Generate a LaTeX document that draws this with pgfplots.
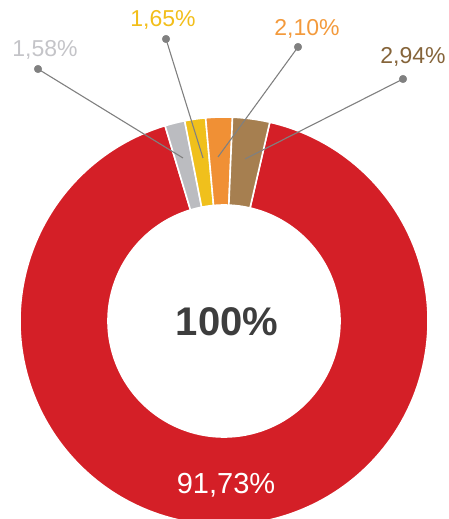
\documentclass[border=0pt]{standalone}
\usepackage{pgfplots}
\pgfplotsset{compat=1.18}
\usepackage{pgfplotstable}
\usepackage{fontspec}
\setmainfont{Liberation Sans}
\definecolor{cred}{HTML}{D41F27}
\definecolor{cgray}{HTML}{BBBCC0}
\definecolor{cyellow}{HTML}{F0C01C}
\definecolor{corange}{HTML}{F09035}
\definecolor{cbrown}{HTML}{A67F50}
\definecolor{lgray}{HTML}{C4C4C8}
\definecolor{lyellow}{HTML}{F2BE1A}
\definecolor{lorange}{HTML}{F39A3C}
\definecolor{lbrown}{HTML}{85643A}
\definecolor{leader}{HTML}{808080}
\definecolor{ctext}{HTML}{3D3D3D}

\pgfplotstableread{
name value
gray 1.58
yellow 1.65
orange 2.10
brown 2.94
red 91.73
}\slices

\pgfplotstablegetelem{0}{value}\of\slices \let\vA\pgfplotsretval
\pgfplotstablegetelem{1}{value}\of\slices \let\vB\pgfplotsretval
\pgfplotstablegetelem{2}{value}\of\slices \let\vC\pgfplotsretval
\pgfplotstablegetelem{3}{value}\of\slices \let\vD\pgfplotsretval
\pgfplotstablegetelem{4}{value}\of\slices \let\vE\pgfplotsretval
\pgfmathsetmacro\aZ{106.8}
\pgfmathsetmacro\aA{\aZ-3.6*\vA}
\pgfmathsetmacro\aB{\aA-3.6*\vB}
\pgfmathsetmacro\aC{\aB-3.6*\vC}
\pgfmathsetmacro\aD{\aC-3.6*\vD}
\pgfmathsetmacro\aE{\aD-3.6*\vE}

\newcommand\donutslice[3]{% color, start, end
  \fill[#1, draw=white, line width=1.6bp]
    ([shift={(#2:204bp)}]axis cs:224,198)
    arc[start angle=#2, end angle=#3, radius=204bp]
    -- ([shift={(#3:116bp)}]axis cs:224,198)
    arc[start angle=#3, end angle=#2, radius=116bp] -- cycle;}

\begin{document}
\begin{tikzpicture}
\begin{axis}[width=449bp, height=519bp, scale only axis,
  xmin=0, xmax=449, ymin=0, ymax=519, axis lines=none, clip=true]
\donutslice{cred}{\aD}{\aE}
\donutslice{cgray}{\aZ}{\aA}
\donutslice{cyellow}{\aA}{\aB}
\donutslice{corange}{\aB}{\aC}
\donutslice{cbrown}{\aC}{\aD}
% leader lines
\addplot[leader, line width=1.1bp] coordinates {(183,361) (38,450)};
\addplot[leader, line width=1.1bp] coordinates {(203,361) (166,480)};
\addplot[leader, line width=1.1bp] coordinates {(218,362) (298,472)};
\addplot[leader, line width=1.1bp] coordinates {(245,360) (403,440)};
\addplot[only marks, mark=*, mark size=3.8bp, leader, mark options={draw=leader, fill=leader}]
  coordinates {(38,450) (166,480) (298,472) (403,440)};
% labels
\node[lgray, font=\fontsize{23bp}{24bp}\selectfont] at (axis cs:45,469) {1,58\%};
\node[lyellow, font=\fontsize{23bp}{24bp}\selectfont] at (axis cs:163,499) {1,65\%};
\node[lorange, font=\fontsize{23bp}{24bp}\selectfont] at (axis cs:307,490) {2,10\%};
\node[lbrown, font=\fontsize{23bp}{24bp}\selectfont] at (axis cs:413,462) {2,94\%};
\node[ctext, font=\fontsize{40bp}{42bp}\selectfont\bfseries] at (axis cs:227,197) {100\%};
\node[white, font=\fontsize{29bp}{30bp}\selectfont] at (axis cs:226,34) {91,73\%};
\end{axis}
\pgfresetboundingbox
\useasboundingbox (current axis.south west) rectangle (current axis.north east);
\end{tikzpicture}
\end{document}
